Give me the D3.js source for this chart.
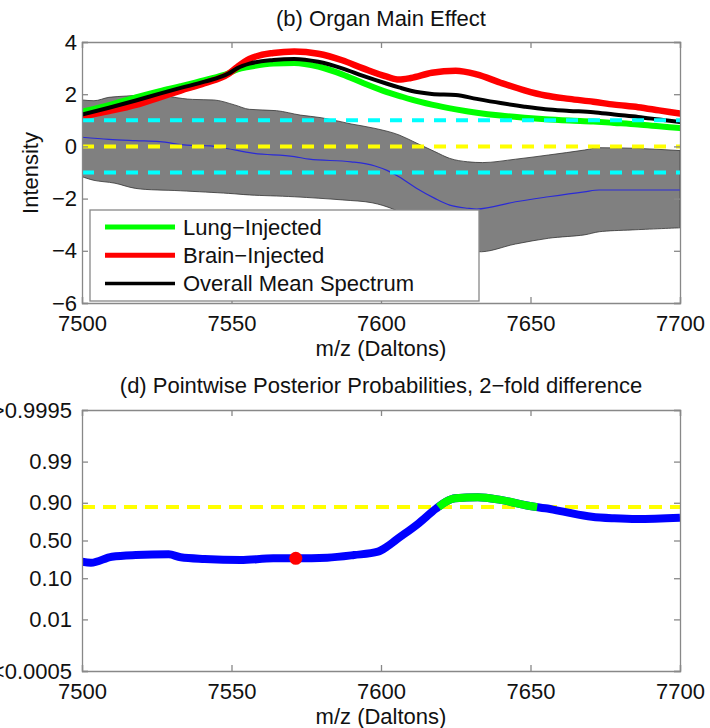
<!DOCTYPE html>
<html>
<head>
<meta charset="utf-8">
<script src="https://cdn.jsdelivr.net/npm/d3@7"></script>
<style>
  body { margin: 0; background: #fff; }
  svg { font-family: "Liberation Sans", Arial, sans-serif; }
</style>
</head>
<body>
<div id="chart"></div>
<script>
// ---- data ----
const mz = [7500, 7509, 7518, 7526, 7533, 7541, 7549, 7552, 7556, 7564, 7571, 7579, 7587, 7594,
            7602, 7606, 7610, 7617, 7625, 7632, 7640, 7648, 7655, 7663, 7671, 7678, 7686, 7693, 7700];
const lungInjected = [1.33, 1.58, 1.88, 2.12, 2.31, 2.54, 2.80, 2.95, 3.05, 3.18, 3.20, 3.06, 2.76, 2.43,
                      2.08, 1.94, 1.80, 1.60, 1.42, 1.29, 1.18, 1.10, 1.04, 0.99, 0.95, 0.90, 0.84, 0.77, 0.70];
const brainInjected = [1.14, 1.35, 1.59, 1.88, 2.14, 2.42, 2.78, 3.05, 3.35, 3.58, 3.64, 3.55, 3.30, 2.99,
                       2.67, 2.56, 2.62, 2.82, 2.90, 2.76, 2.44, 2.15, 1.95, 1.82, 1.71, 1.60, 1.50, 1.38, 1.26];
const overallMean = [1.22, 1.48, 1.76, 2.02, 2.24, 2.48, 2.79, 3.00, 3.17, 3.31, 3.35, 3.24, 2.99, 2.70,
                     2.40, 2.26, 2.13, 2.01, 1.97, 1.82, 1.66, 1.52, 1.42, 1.36, 1.31, 1.22, 1.13, 1.03, 0.93];

const bandUpperMz = [7500, 7504, 7509, 7515, 7520, 7524, 7530, 7537, 7544, 7551, 7556, 7565, 7573, 7580,
                     7590, 7598, 7606, 7612, 7618, 7623, 7629, 7634, 7645, 7656, 7668, 7673, 7684, 7700];
const bandUpper = [1.78, 1.75, 1.88, 1.93, 1.98, 2.06, 1.90, 1.80, 1.78, 1.59, 1.42, 1.37, 1.20, 1.10,
                   0.86, 0.69, 0.44, 0.12, -0.20, -0.46, -0.59, -0.62, -0.49, -0.33, -0.14, -0.05, -0.07, -0.16];
const bandLowerMz = [7500, 7504, 7511, 7518, 7533, 7549, 7556, 7571, 7587, 7597, 7604, 7610, 7620, 7632,
                     7645, 7656, 7668, 7673, 7684, 7700];
const bandLower = [-1.16, -1.30, -1.41, -1.61, -1.70, -1.80, -1.86, -1.93, -2.05, -2.16, -2.40, -2.75, -3.40, -4.03,
                   -3.74, -3.52, -3.39, -3.27, -3.20, -3.12];

const effectMz = [7500, 7509, 7518, 7526, 7535, 7543, 7548, 7557, 7571, 7576, 7590, 7598, 7602, 7606,
                  7612, 7618, 7623, 7629, 7632, 7645, 7656, 7668, 7673, 7700];
const effect = [0.35, 0.27, 0.22, 0.18, 0.05, 0.02, -0.07, -0.26, -0.39, -0.49, -0.59, -0.75, -0.92, -1.16,
                -1.61, -1.99, -2.25, -2.37, -2.40, -2.12, -1.93, -1.74, -1.67, -1.67];

const probMz = [7500, 7503, 7510, 7518, 7529, 7533, 7541, 7553, 7564, 7571.5, 7582, 7591, 7599, 7602, 7605,
                7612.6, 7618.4, 7621.7, 7624.8, 7632.4, 7640, 7649.8, 7655, 7661, 7670.5, 7678, 7685.6, 7700];
const probs = [0.225, 0.215, 0.280, 0.300, 0.309, 0.273, 0.254, 0.243, 0.262, 0.262, 0.269, 0.300, 0.343, 0.411, 0.507,
               0.731, 0.865, 0.905, 0.921, 0.925, 0.914, 0.882, 0.867, 0.843, 0.800, 0.785, 0.778, 0.790];
const probThreshold = 0.875;
const peakMz = 7571.5, peakProb = 0.262;

const intensityTicks = [4, 2, 0, -2, -4, -6];
const intensityRefs = [1, 0, -1];
const mzTicks = [7500, 7550, 7600, 7650, 7700];
const probTicks = [0.0005, 0.01, 0.10, 0.50, 0.90, 0.99, 0.9995];
const probTickLabels = ["<0.0005", "0.01", "0.10", "0.50", "0.90", "0.99", ">0.9995"];
const legendLabels = ["Lung\u2212Injected", "Brain\u2212Injected", "Overall Mean Spectrum"];
const legendColors = ["#00ff00", "#ff0000", "#000000"];

const W = 710, H = 728;
const FS = 22;
const svg = d3.select("#chart").append("svg").attr("width", W).attr("height", H);
const logit = p => Math.log(p / (1 - p));

// ---- top panel ----
const x1 = d3.scaleLinear().domain([7500, 7700]).range([82, 680]);
const y1 = d3.scaleLinear().domain([-6, 4]).range([303, 42]);

svg.append("clipPath").attr("id", "clipTop").append("rect")
  .attr("x", 82).attr("y", 42).attr("width", 598).attr("height", 261);

const topG = svg.append("g").attr("clip-path", "url(#clipTop)");

const line1 = d3.line().x(d => x1(d[0])).y(d => y1(d[1])).curve(d3.curveMonotoneX);

// band: upper edge left-to-right, then lower edge right-to-left
const upperPath = line1(bandUpperMz.map((m, i) => [m, bandUpper[i]]));
const lowerRev = d3.line().x(d => x1(d[0])).y(d => y1(d[1])).curve(d3.curveCatmullRom)
  (bandLowerMz.map((m, i) => [m, bandLower[i]]).reverse());
topG.append("path")
  .attr("d", upperPath + "L" + lowerRev.slice(1) + "Z")
  .attr("fill", "#808080").attr("stroke", "#333").attr("stroke-width", 0.8);

topG.append("path")
  .attr("d", line1(effectMz.map((m, i) => [m, effect[i]])))
  .attr("fill", "none").attr("stroke", "#2a2ad6").attr("stroke-width", 1.2);

const spectra = [
  { vals: lungInjected, color: "#00ff00", w: 6 },
  { vals: brainInjected, color: "#ff0000", w: 6.5 },
  { vals: overallMean, color: "#000000", w: 4 }
];
spectra.forEach(s => {
  topG.append("path")
    .attr("d", line1(mz.map((m, i) => [m, s.vals[i]])))
    .attr("fill", "none").attr("stroke", s.color).attr("stroke-width", s.w)
    .attr("stroke-linejoin", "round").attr("stroke-linecap", "round");
});

intensityRefs.forEach(v => {
  topG.append("line")
    .attr("x1", x1(7500)).attr("x2", x1(7700)).attr("y1", y1(v)).attr("y2", y1(v))
    .attr("stroke", v === 0 ? "#ffff00" : "#00ffff").attr("stroke-width", 4)
    .attr("stroke-dasharray", "12,10");
});

function frame(x, y, yTicks, yFormat, yPad) {
  const c = "#888";
  const gl = svg.append("g").attr("transform", `translate(${x.range()[0]},0)`)
    .call(d3.axisLeft(y).tickValues(yTicks).tickFormat(yFormat).tickSize(-6).tickPadding(yPad));
  const gr = svg.append("g").attr("transform", `translate(${x.range()[1]},0)`)
    .call(d3.axisRight(y).tickValues(yTicks).tickFormat("").tickSize(-6));
  const gt = svg.append("g").attr("transform", `translate(0,${y.range()[1]})`)
    .call(d3.axisTop(x).tickValues(mzTicks).tickFormat("").tickSize(-6));
  const gb = svg.append("g").attr("transform", `translate(0,${y.range()[0]})`)
    .call(d3.axisBottom(x).tickValues(mzTicks).tickFormat(d3.format("d")).tickSize(-6).tickPadding(12));
  [gl, gr, gt, gb].forEach(g => {
    g.selectAll("path, line").attr("stroke", c).attr("stroke-width", 1.3);
    g.selectAll("text").attr("font-size", FS).attr("fill", "#111")
      .attr("font-family", '"Liberation Sans", Arial, sans-serif');
  });
}

frame(x1, y1, intensityTicks, d3.format("d"), 5);

// legend
const lg = svg.append("g");
lg.append("rect").attr("x", 90).attr("y", 210).attr("width", 389).attr("height", 91)
  .attr("fill", "#fff").attr("stroke", "#888").attr("stroke-width", 1.3);
legendLabels.forEach((t, i) => {
  const yy = 227 + i * 28.3;
  lg.append("line").attr("x1", 105).attr("x2", 175).attr("y1", yy).attr("y2", yy)
    .attr("stroke", legendColors[i]).attr("stroke-width", i === 2 ? 3.5 : 5);
  lg.append("text").attr("x", 183).attr("y", yy).attr("dy", "0.35em")
    .attr("font-size", FS).attr("fill", "#111").text(t);
});

svg.append("text").attr("x", 381).attr("y", 18).attr("dy", "0.35em").attr("text-anchor", "middle")
  .attr("font-size", FS).attr("fill", "#111").text("(b) Organ Main Effect");
svg.append("text").attr("transform", "translate(30,173) rotate(-90)").attr("dy", "0.35em")
  .attr("text-anchor", "middle").attr("font-size", FS).attr("fill", "#111").text("Intensity");
svg.append("text").attr("x", 381).attr("y", 348).attr("dy", "0.35em").attr("text-anchor", "middle")
  .attr("font-size", FS).attr("fill", "#111").text("m/z (Daltons)");

// ---- bottom panel ----
const x2 = d3.scaleLinear().domain([7500, 7700]).range([82, 680]);
const y2 = d3.scaleLinear().domain([logit(0.0005), logit(0.9995)]).range([671, 410]);

svg.append("clipPath").attr("id", "clipBot").append("rect")
  .attr("x", 82).attr("y", 410).attr("width", 598).attr("height", 261);
const botG = svg.append("g").attr("clip-path", "url(#clipBot)");

botG.append("line")
  .attr("x1", x2(7500)).attr("x2", x2(7700))
  .attr("y1", y2(logit(probThreshold))).attr("y2", y2(logit(probThreshold)))
  .attr("stroke", "#ffff00").attr("stroke-width", 4).attr("stroke-dasharray", "13,8");

const line2 = d3.line().x(d => x2(d[0])).y(d => y2(logit(d[1]))).curve(d3.curveMonotoneX);
botG.append("path")
  .attr("d", line2(probMz.map((m, i) => [m, probs[i]])))
  .attr("fill", "none").attr("stroke", "#0000ff").attr("stroke-width", 8)
  .attr("stroke-linejoin", "round");

// segments above the threshold drawn in green
function aboveParts(xs, ps, thr) {
  const parts = [];
  let cur = null;
  for (let i = 0; i < xs.length; i++) {
    const above = ps[i] >= thr;
    if (i > 0 && above !== (ps[i - 1] >= thr)) {
      const t = (thr - ps[i - 1]) / (ps[i] - ps[i - 1]);
      const cx = xs[i - 1] + t * (xs[i] - xs[i - 1]);
      if (above) cur = [[cx, thr]];
      else { cur.push([cx, thr]); parts.push(cur); cur = null; }
    }
    if (above) { if (!cur) cur = []; cur.push([xs[i], ps[i]]); }
  }
  if (cur) parts.push(cur);
  return parts;
}
aboveParts(probMz, probs, probThreshold).forEach(p => {
  botG.append("path").attr("d", line2(p))
    .attr("fill", "none").attr("stroke", "#00ff00").attr("stroke-width", 8);
});

botG.append("circle").attr("cx", x2(peakMz)).attr("cy", y2(logit(peakProb))).attr("r", 6.5)
  .attr("fill", "#ff0000");

frame(x2, y2, probTicks.map(logit), (d, i) => probTickLabels[i], 10);

svg.append("text").attr("x", 381).attr("y", 385).attr("dy", "0.35em").attr("text-anchor", "middle")
  .attr("font-size", FS).attr("fill", "#111").text("(d) Pointwise Posterior Probabilities, 2\u2212fold difference");
svg.append("text").attr("x", 381).attr("y", 716).attr("dy", "0.35em").attr("text-anchor", "middle")
  .attr("font-size", FS).attr("fill", "#111").text("m/z (Daltons)");
</script>
</body>
</html>
